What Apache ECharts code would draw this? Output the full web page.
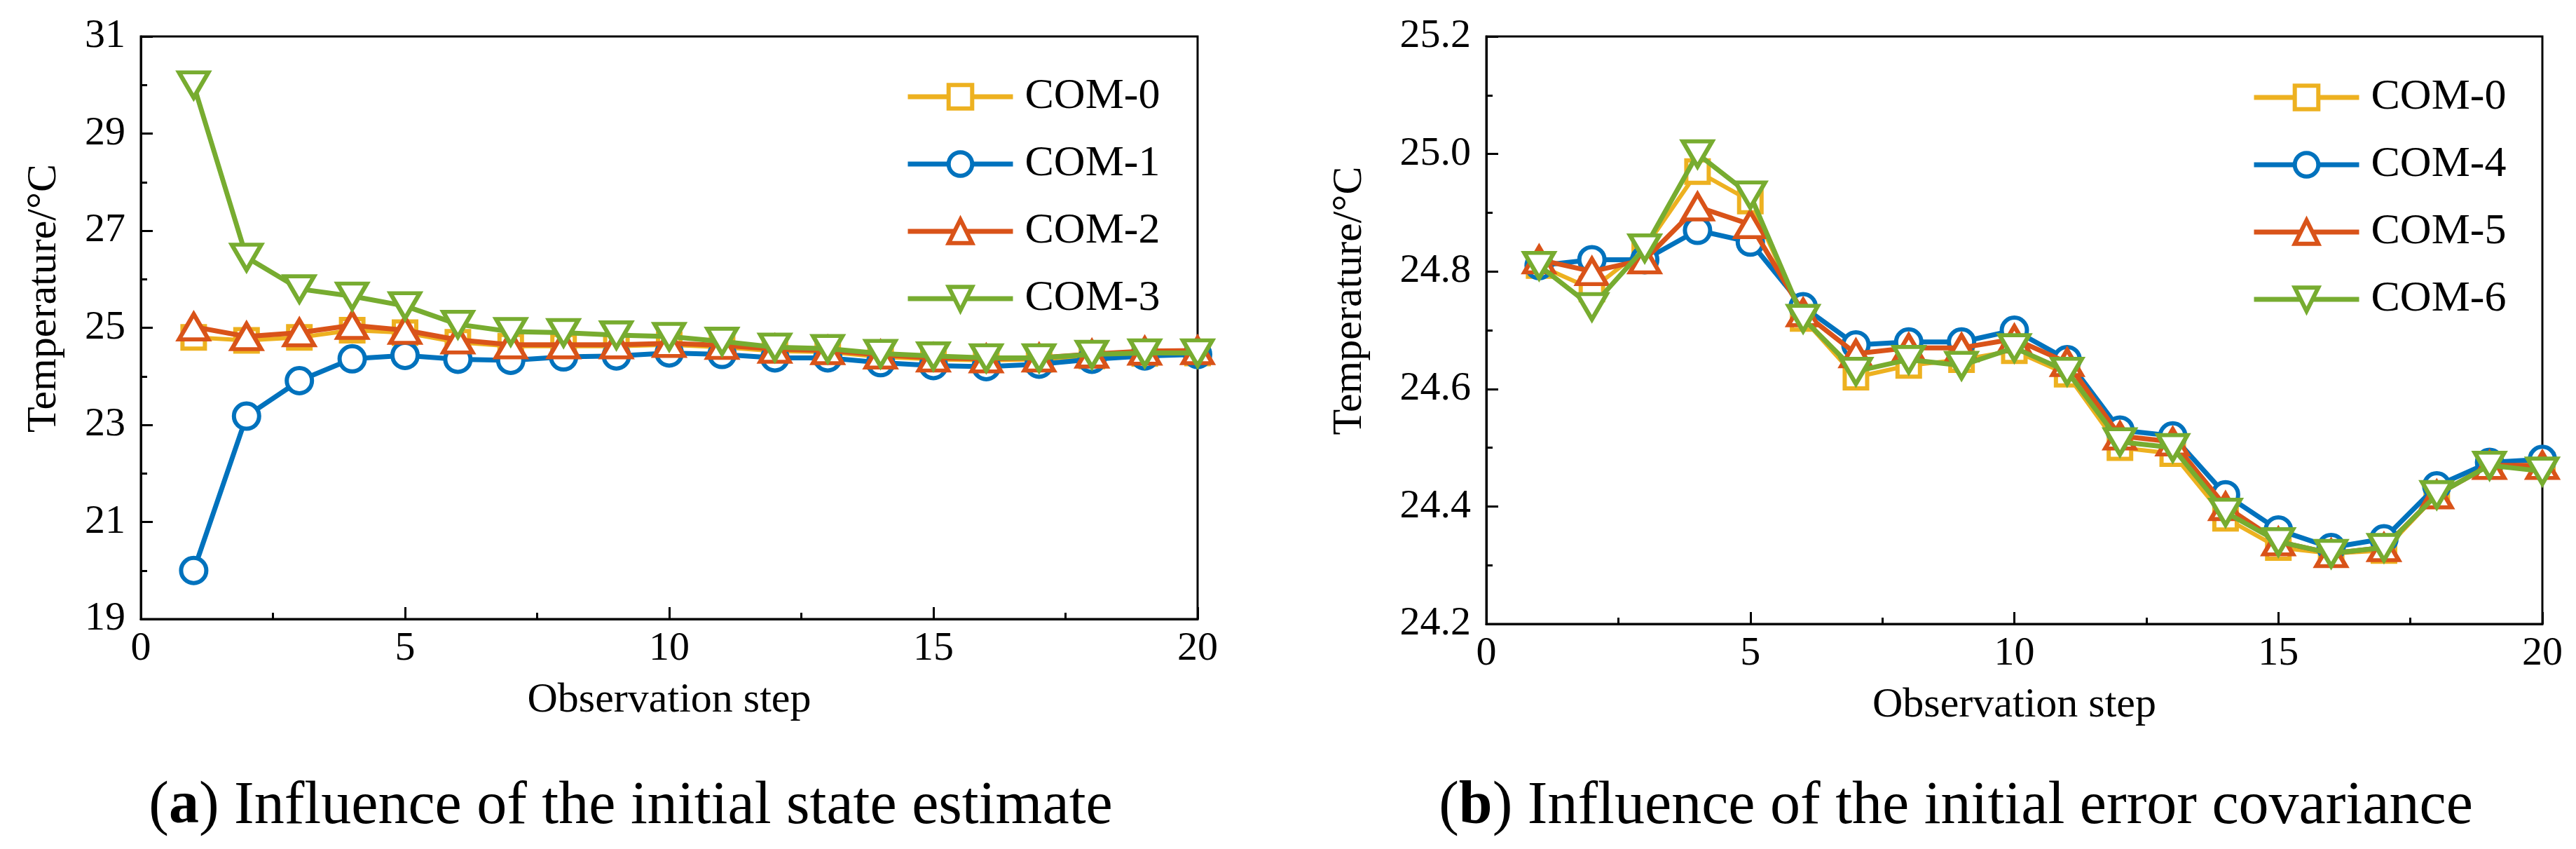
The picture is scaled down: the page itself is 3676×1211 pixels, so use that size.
<!DOCTYPE html>
<html>
<head>
<meta charset="utf-8">
<title>COM comparison</title>
<script src="https://cdn.jsdelivr.net/npm/echarts@6/dist/echarts.min.js"></script>
<style>
  html, body { margin: 0; padding: 0; background: #fff; }
  #main { width: 3676px; height: 1211px; }
</style>
</head>
<body>
<div id="main"></div>
<script>
// observation steps (x)
var steps = [1, 2, 3, 4, 5, 6, 7, 8, 9, 10, 11, 12, 13, 14, 15, 16, 17, 18, 19, 20];

// (a) initial state estimate
var namesA = ['COM-0', 'COM-1', 'COM-2', 'COM-3'];
var com0A = [24.80, 24.74, 24.80, 24.95, 24.90, 24.70, 24.62, 24.62, 24.62, 24.65, 24.60, 24.52, 24.50, 24.40, 24.35, 24.33, 24.35, 24.42, 24.47, 24.48];
var com1A = [20.00, 23.18, 23.91, 24.36, 24.43, 24.35, 24.33, 24.40, 24.42, 24.48, 24.45, 24.38, 24.38, 24.28, 24.22, 24.20, 24.25, 24.35, 24.42, 24.45];
var com2A = [25.02, 24.82, 24.90, 25.05, 24.95, 24.75, 24.65, 24.65, 24.65, 24.68, 24.64, 24.56, 24.53, 24.44, 24.38, 24.36, 24.38, 24.46, 24.52, 24.53];
var com3A = [30.00, 26.45, 25.80, 25.65, 25.45, 25.07, 24.92, 24.90, 24.85, 24.82, 24.72, 24.60, 24.57, 24.47, 24.42, 24.38, 24.38, 24.45, 24.48, 24.48];

// (b) initial error covariance
var namesB = ['COM-0', 'COM-4', 'COM-5', 'COM-6'];
var com0B = [24.81, 24.77, 24.84, 24.97, 24.92, 24.72, 24.62, 24.64, 24.65, 24.665, 24.625, 24.50, 24.49, 24.38, 24.33, 24.32, 24.325, 24.42, 24.47, 24.47];
var com4B = [24.81, 24.82, 24.82, 24.87, 24.85, 24.74, 24.675, 24.68, 24.68, 24.70, 24.65, 24.53, 24.52, 24.42, 24.36, 24.33, 24.345, 24.435, 24.475, 24.48];
var com5B = [24.82, 24.80, 24.82, 24.91, 24.88, 24.73, 24.66, 24.67, 24.67, 24.685, 24.645, 24.52, 24.51, 24.40, 24.34, 24.32, 24.33, 24.42, 24.47, 24.47];
var com6B = [24.81, 24.74, 24.84, 25.00, 24.93, 24.72, 24.63, 24.65, 24.64, 24.67, 24.63, 24.51, 24.50, 24.39, 24.34, 24.32, 24.33, 24.42, 24.47, 24.46];

// axis ranges / ticks
var xTicks = [0, 5, 10, 15, 20];
var yTicksA = [19, 21, 23, 25, 27, 29, 31];
var yTicksB = [24.2, 24.4, 24.6, 24.8, 25.0, 25.2];

var captionA = '({b|a}) Influence of the initial state estimate';
var captionB = '({b|b}) Influence of the initial error covariance';

// styles
var colors = ['#EDB120', '#0072BD', '#D95319', '#77AC30'];
var symbols = ['rect', 'circle', 'triangle', 'path://M0,0L40,0L20,34Z'];
var symbolSizes = [32, 36, [42, 36], [42, 36]];
var FONT = 'Liberation Serif';

function makeSeries(name, vals, idx, k, lw) {
    return {
        name: name,
        type: 'line',
        xAxisIndex: idx,
        yAxisIndex: idx,
        data: steps.map(function (s, i) { return [s, vals[i]]; }),
        symbol: symbols[k],
        symbolSize: symbolSizes[k],
        showAllSymbol: true,
        lineStyle: { color: colors[k], width: lw },
        itemStyle: { color: '#fff', borderColor: colors[k], borderWidth: 6 },
        emphasis: { disabled: true },
        z: 2 + k
    };
}

function xAxisOpt(idx) {
    return {
        type: 'value', gridIndex: idx,
        min: xTicks[0], max: xTicks[xTicks.length - 1], interval: 5,
        name: 'Observation step', nameLocation: 'middle', nameGap: 86,
        nameTextStyle: { fontFamily: FONT, fontSize: 60, color: '#000' },
        axisLine: { lineStyle: { color: '#000', width: 3 } },
        axisTick: { inside: true, length: 17, lineStyle: { color: '#000', width: 3 } },
        minorTick: { show: true, splitNumber: 2, length: 9, lineStyle: { color: '#000', width: 3 } },
        axisLabel: { fontFamily: FONT, fontSize: 58, color: '#000', margin: 14 },
        splitLine: { show: false }
    };
}

function yAxisOpt(idx, ticks, interval, gap, digits) {
    return {
        type: 'value', gridIndex: idx,
        min: ticks[0], max: ticks[ticks.length - 1], interval: interval,
        name: 'Temperature/°C', nameLocation: 'middle', nameGap: gap,
        nameTextStyle: { fontFamily: FONT, fontSize: 60, color: '#000', padding: [0, 0, 0, 84] },
        axisLine: { lineStyle: { color: '#000', width: 3 } },
        axisTick: { inside: true, length: 17, lineStyle: { color: '#000', width: 3 } },
        minorTick: { show: true, splitNumber: 2, length: 9, lineStyle: { color: '#000', width: 3 } },
        axisLabel: {
            fontFamily: FONT, fontSize: 58, color: '#000', margin: 22,
            formatter: function (v) { return v.toFixed(digits); }
        },
        splitLine: { show: false }
    };
}

function legendOpt(names, left, top) {
    return {
        data: names, orient: 'vertical', left: left, top: top,
        itemWidth: 150, itemHeight: 42, itemGap: 34,
        lineStyle: { width: 7 },
        itemStyle: { borderWidth: 6 },
        textStyle: { fontFamily: FONT, fontSize: 62, color: '#000', lineHeight: 42, padding: [0, 0, 0, 12] },
        selectedMode: false
    };
}

var myChart = echarts.init(document.getElementById('main'));

var option = {
    animation: false,
    backgroundColor: '#fff',
    title: [{
        text: captionA, left: 895, top: 1103, textAlign: 'center',
        textStyle: { fontFamily: FONT, fontSize: 86, fontWeight: 'normal', color: '#000',
            rich: { b: { fontFamily: FONT, fontSize: 86, fontWeight: 'bold', color: '#000' } } }
    }, {
        text: captionB, left: 2786, top: 1103, textAlign: 'center',
        textStyle: { fontFamily: FONT, fontSize: 86, fontWeight: 'normal', color: '#000',
            rich: { b: { fontFamily: FONT, fontSize: 86, fontWeight: 'bold', color: '#000' } } }
    }],
    legend: [
        legendOpt(namesA, 1287, 102),
        legendOpt(namesB, 3208, 103)
    ],
    grid: [
        { left: 201, right: 1967, top: 52, bottom: 328, show: true, borderColor: '#000', borderWidth: 3 },
        { left: 2121, right: 48, top: 52, bottom: 321, show: true, borderColor: '#000', borderWidth: 3 }
    ],
    xAxis: [xAxisOpt(0), xAxisOpt(1)],
    yAxis: [
        yAxisOpt(0, yTicksA, 2, 108, 0),
        yAxisOpt(1, yTicksB, 0.2, 165, 1)
    ],
    series: [
        makeSeries(namesA[0], com0A, 0, 0, 6),
        makeSeries(namesA[1], com1A, 0, 1, 7),
        makeSeries(namesA[2], com2A, 0, 2, 7),
        makeSeries(namesA[3], com3A, 0, 3, 7),
        makeSeries(namesB[0], com0B, 1, 0, 6),
        makeSeries(namesB[1], com4B, 1, 1, 7),
        makeSeries(namesB[2], com5B, 1, 2, 7),
        makeSeries(namesB[3], com6B, 1, 3, 7)
    ]
};

myChart.setOption(option);
</script>
</body>
</html>
